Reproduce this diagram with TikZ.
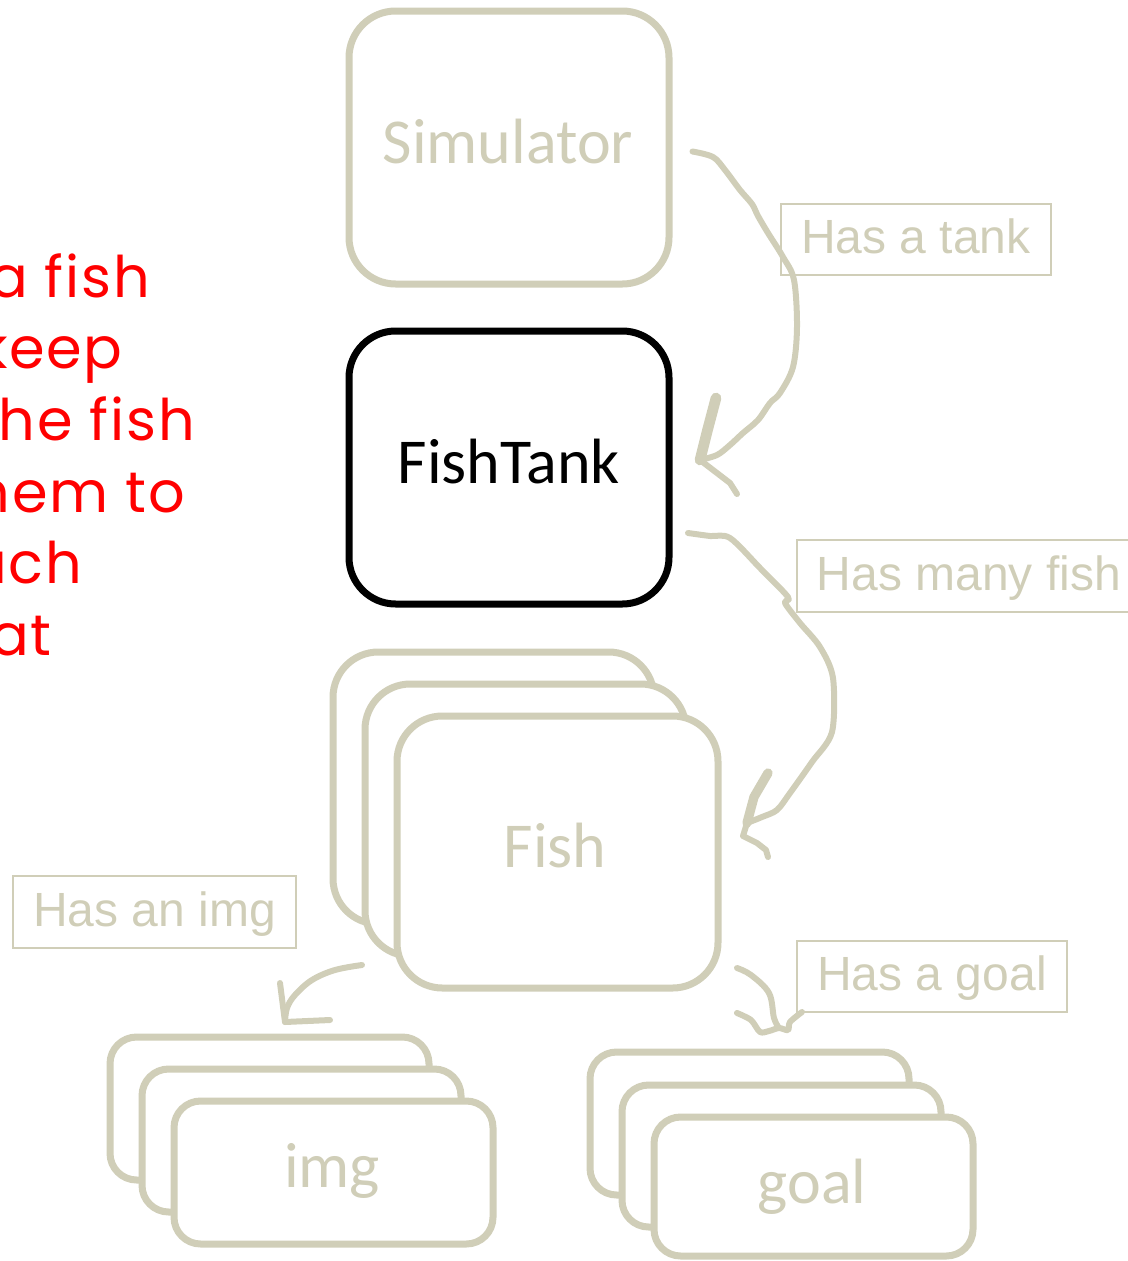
\documentclass[tikz,border=0pt]{standalone}
\usepackage{fontspec}
\setmainfont{Carlito}
\newfontfamily\labelfont{Liberation Sans}
\newfontfamily\notefont[LetterSpace=3]{Poppins}
\usetikzlibrary{calc}
\definecolor{sage}{RGB}{208,206,184}
\definecolor{notered}{RGB}{255,0,0}

\begin{document}
\begin{tikzpicture}[x=0.75pt,y=-0.75pt,
  dims/.style 2 args={minimum width=#1*0.75pt, minimum height=#2*0.75pt},
  card/.style={draw=sage, fill=white, line width=5.25pt, inner sep=0pt},
  bigcard/.style={card, rounded corners=35pt},
  midcard/.style={card, rounded corners=34pt},
  smallcard/.style={card, rounded corners=20pt},
  cardtext/.style={anchor=base, inner sep=0pt, text=sage, font=\fontsize{48pt}{56pt}\selectfont},
  tag/.style={draw=sage, line width=1.9pt, inner xsep=0pt, inner ysep=0pt,
    text height=27pt, text depth=5.4pt, text=sage,
    font=\labelfont\fontsize{36pt}{42pt}\selectfont},
  note/.style={anchor=base east, inner sep=0pt, text=notered,
    font=\notefont\fontsize{43pt}{50pt}\selectfont},
  link/.style={draw=sage, line width=4.5pt, line cap=round, line join=round},
  barb/.style={link, line width=7pt}
]
\useasboundingbox (0,0) rectangle (1128,1261);
\clip (0,0) rectangle (1128,1261);

% margin notes, running off the left edge
\node[note] (n1) at (150,297) {a fish};
\node[note] (n2) at (123,368) {keep};
\node[note] (n3) at (195,440) {the fish};
\node[note] (n4) at (185,512) {hem to};
\node[note] (n5) at (82,583) {ach};
\node[note] (n6) at (52,655) {at};

% main classes
\node[bigcard, dims={320}{273}] (sim) at (509,147.5) {};
\node[cardtext] (simtext) at (508,163) {Simulator};
\node[bigcard, draw=black, dims={320}{273}] (tank) at (509,467.5) {};
\node[cardtext, text=black] (tanktext) at (509,483) {FishTank};

% stack of fish
\node[midcard, dims={321}{272}] (fish3) at (493.5,788) {};
\node[midcard, dims={321}{272}] (fish2) at (525.5,820) {};
\node[midcard, dims={321}{272}] (fish) at (557.5,852) {};
\node[cardtext] (fishtext) at (555,867) {Fish};

% stack of images
\node[smallcard, dims={319}{143}] (img3) at (269.5,1108.5) {};
\node[smallcard, dims={319}{143}] (img2) at (301.5,1140.5) {};
\node[smallcard, dims={319}{143}] (img) at (333.5,1172.5) {};
\node[cardtext] (imgtext) at (332,1187) {img};

% stack of goals
\node[smallcard, dims={319}{143}] (goal3) at (749.5,1123.5) {};
\node[smallcard, dims={319}{142}] (goal2) at (781.5,1156) {};
\node[smallcard, dims={319}{139}] (goal) at (813.5,1186.5) {};
\node[cardtext] (goaltext) at (812,1203) {goal};

% relation labels
\node[tag, dims={270}{71}] (ltank) at (916,239.5) {Has a tank};
\node[tag, dims={344}{72}] (lfish) at (969,576) {Has many fish};
\node[tag, dims={283}{72}] (limg) at (154.5,912) {Has an img};
\node[tag, dims={270}{71}] (lgoal) at (932,976.5) {Has a goal};

% hand-drawn arrow ends
\coordinate (a1s) at ($(sim.east)+(20,4)$);
\coordinate (a1e) at ($(tank.east)+(27.5,-7.5)$);
\coordinate (a2s) at ($(tank.east)+(15.5,65.5)$);
\coordinate (a2e) at ($(fish.east)+(25.5,-29)$);
\coordinate (a3s) at ($(fish.south west)+(-31.5,-26.5)$);
\coordinate (a3e) at ($(img3.north)+(15.5,-11.5)$);
\coordinate (a4s) at ($(fish.south east)+(15.5,-23.5)$);
\coordinate (a4e) at ($(goal3.north)+(29.5,-20.5)$);

% Simulator has a tank
\draw[link] plot[smooth, tension=0.55] coordinates {(a1s) (713,157) (725,170) (740,190)
  (752,204) (758,216) (768,233) (783,257) (794,280) (797,327) (793,367) (780,393)
  (770,403) (758,420) (743,433) (730,445) (717,455) (a1e)};
\draw[barb, line width=8pt] (a1e) -- (707,432) -- (716,398);
\draw[link] (a1e) -- (730,483) -- (737,494);

% FishTank has many fish
\draw[link] plot[smooth, tension=0.5] coordinates {(a2s) (710,536) (730,538) (760,568)
  (788,597) (785,603) (800,623) (820,647) (833,678) (832,732) (812,762) (790,793)
  (777,810) (762,817) (a2e)};
\draw[barb] (a2e) -- (754,797) -- (768,773);
\draw[link] (a2e) -- (743,836) -- (757,843) -- (766,850) -- (768,857);

% Fish has an img
\draw[link] plot[smooth, tension=0.6] coordinates {(a3s) (335,970) (312,980) (295,995)
  (287,1008) (a3e)};
\draw[link] (280,983) -- (a3e) -- (330,1020);

% Fish has a goal
\draw[link] plot[smooth, tension=0.6] coordinates {(a4s) (751,975) (769,993) (774,1018) (a4e)};
\draw[link] plot[smooth, tension=0.5] coordinates {(737,1013) (751,1020) (760,1032)
  (769,1031) (a4e) (788,1030) (790,1022) (802,1012)};
\end{tikzpicture}
\end{document}
